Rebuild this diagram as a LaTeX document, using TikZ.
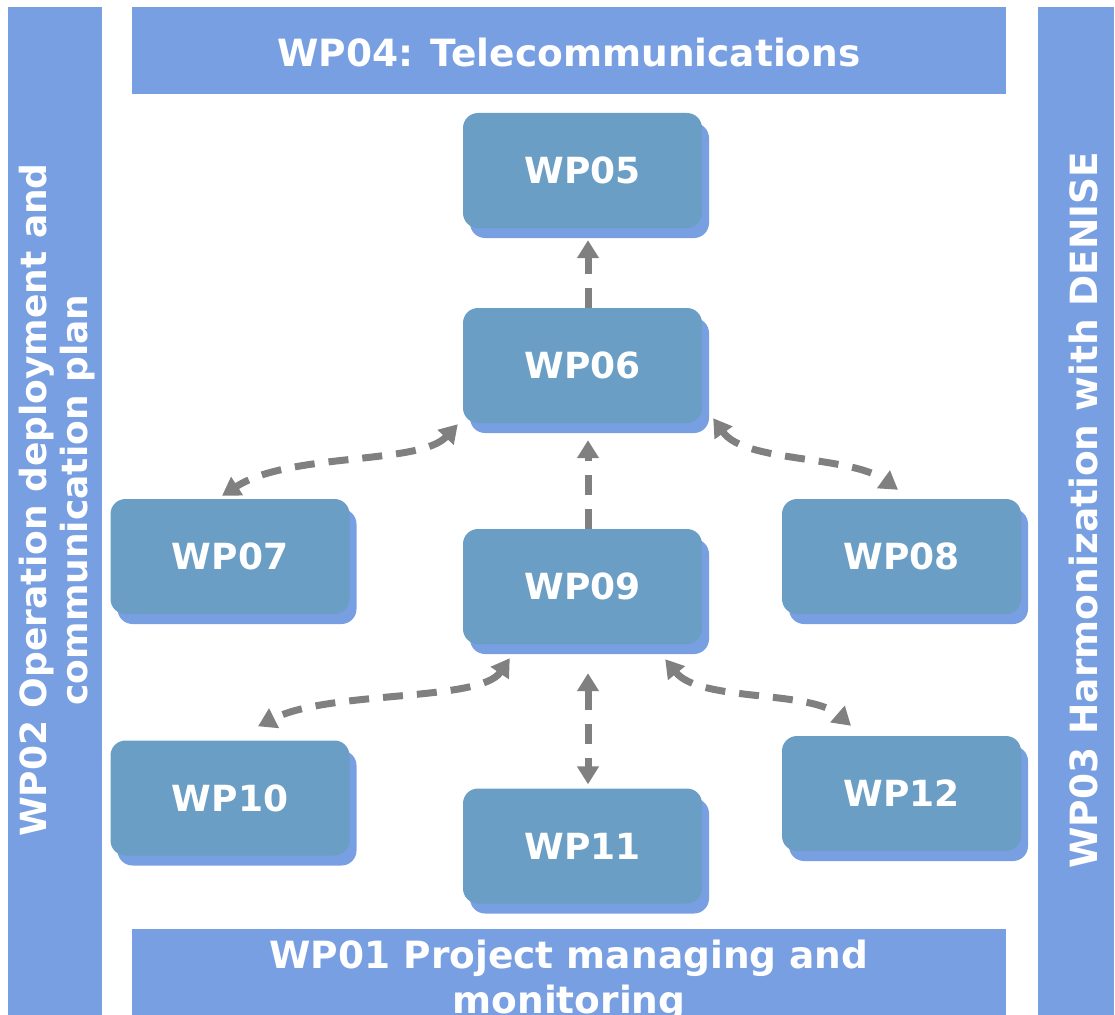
\documentclass[tikz,border=0pt]{standalone}
\usepackage{fontspec}
\setmainfont{DejaVu Sans}
\usetikzlibrary{arrows.meta,shadows,calc}

\definecolor{barblue}{RGB}{120,159,226}
\definecolor{boxblue}{RGB}{106,158,197}
\definecolor{linkgray}{RGB}{128,128,128}

\tikzset{
  bigtext/.style={font=\fontsize{36}{42}\selectfont\bfseries, text=white},
  bartext/.style={font=\fontsize{37.5}{42}\selectfont\bfseries, text=white},
  bar/.style={fill=barblue, draw=none, inner sep=0pt},
  wpbox/.style={bigtext, fill=boxblue, draw=none, rounded corners=15pt,
    minimum width=239pt, minimum height=115pt, inner sep=0pt,
    drop shadow={shadow xshift=7pt, shadow yshift=-10pt, fill=barblue, opacity=1}},
  link/.style={draw=linkgray, line width=7pt, dash pattern=on 20pt off 14pt},
  onehead/.style={link, -{Triangle[width=21pt,length=18pt]}},
  twohead/.style={link, {Triangle[width=21pt,length=18pt]}-{Triangle[width=21pt,length=18pt]}}
}

\begin{document}
\begin{tikzpicture}[x=1pt,y=-1pt]
  \useasboundingbox (0,0) rectangle (1115,1014);
  \clip (0,0) rectangle (1115,1014);

  % frame of work packages around the core
  \node (bartop)    [bar, anchor=north west, minimum width=874pt, minimum height=87pt] at (132,7) {};
  \node (barbottom) [bar, anchor=north west, minimum width=874pt, minimum height=100pt] at (132,929) {};
  \node (barleft)   [bar, anchor=north west, minimum width=94pt, minimum height=1020pt] at (8,7) {};
  \node (barright)  [bar, anchor=north west, minimum width=76pt, minimum height=1020pt] at (1038,7) {};

  \node (wp04) [bartext] at (569,53) {WP04: Telecommunications};
  \node (wp01) [bartext, font=\fontsize{37.5}{45}\selectfont\bfseries, align=center, anchor=north]
     at (569,936) {WP01 Project managing and\\monitoring};
  \node (wp02) [bigtext, font=\fontsize{36}{41}\selectfont\bfseries, align=center, rotate=90]
     at (57,500) {WP02 Operation deployment and\\communication plan};
  \node (wp03) [bartext, rotate=90] at (1084,510) {WP03 Harmonization with DENISE};

  % core work packages
  \node (WP05) [wpbox] at (582.5,170.5) {WP05};
  \node (WP06) [wpbox] at (582.5,365.5) {WP06};
  \node (WP07) [wpbox] at (230,556.5) {WP07};
  \node (WP09) [wpbox] at (582.5,586.5) {WP09};
  \node (WP08) [wpbox] at (901.5,556.5) {WP08};
  \node (WP10) [wpbox] at (230,798) {WP10};
  \node (WP11) [wpbox] at (582.5,846) {WP11};
  \node (WP12) [wpbox] at (901.5,793.5) {WP12};

  % links
  \draw[onehead] ([xshift=5.5pt]WP06.north) -- ([xshift=5.5pt,yshift=-12pt]WP05.south);
  \draw[onehead] ([xshift=5.5pt]WP09.north) -- ([xshift=5.5pt,yshift=-17pt]WP06.south);
  \draw[twohead] ([xshift=5.5pt,yshift=-29pt]WP09.south) -- ([xshift=5.5pt,yshift=4pt]WP11.north);

  \draw[twohead] ([xshift=-5pt,yshift=-1pt]WP06.south west)
     .. controls (420,465) and (290,452) .. ([xshift=-8pt,yshift=3pt]WP07.north);
  \draw[twohead] ([xshift=11pt,yshift=5pt]WP06.south east)
     .. controls (745,463) and (850,455) .. ([xshift=-3.5pt,yshift=9pt]WP08.north);
  \draw[twohead] ([xshift=47pt,yshift=-14pt]WP09.south west)
     .. controls (480,702) and (330,690) .. ([xshift=28pt,yshift=14pt]WP10.north);
  \draw[twohead] ([xshift=-37pt,yshift=-15pt]WP09.south east)
     .. controls (700,702) and (810,690) .. ([xshift=-50.5pt,yshift=10pt]WP12.north);
\end{tikzpicture}
\end{document}
